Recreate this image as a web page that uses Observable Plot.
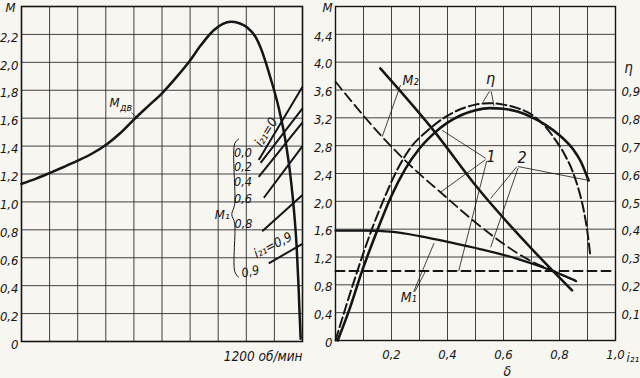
<!DOCTYPE html>
<html><head><meta charset="utf-8">
<script src="https://cdn.jsdelivr.net/npm/d3@7"></script>
<script src="https://cdn.jsdelivr.net/npm/@observablehq/plot@0.6"></script>
<style>
html,body{margin:0;padding:0;background:#f7f6f1;}
#wrap{display:flex;width:640px;height:378px;overflow:hidden;}
#wrap svg{overflow:visible;flex:none;}
</style></head><body><div id="wrap"></div>
<script>
// ---------- Left panel: motor torque vs speed ----------
const rpmGrid = [0,120,240,360,480,600,720,840,960,1080,1200];
const mGridLeft = [0,0.2,0.4,0.6,0.8,1.0,1.2,1.4,1.6,1.8,2.0,2.2,2.4];
const mTicksLeft = [0,0.2,0.4,0.6,0.8,1.0,1.2,1.4,1.6,1.8,2.0,2.2];

const dvSpeed  = [0,60,124,180,240,300,366,420,480,540,601,660,714,765,821,860,893,930,964,1000,1020,1063,1099,1127,1149,1163,1175,1183,1188,1192];
const dvTorque = [1.13,1.165,1.21,1.25,1.295,1.345,1.415,1.49,1.59,1.685,1.78,1.89,2.0,2.12,2.23,2.275,2.29,2.28,2.25,2.18,2.11,1.89,1.67,1.44,1.18,0.95,0.68,0.40,0.18,0.02];

// load torque M1 lines for i21 values (start speed, start M, end speed, end M)
const loadRatio  = ["0,0","0,2","0,4","0,6","0,8","0,9"];
const loadN0 = [1013,1021,1013,1035,1028,1056];
const loadM0 = [1.30,1.28,1.18,1.03,0.79,0.56];
const loadN1 = [1200,1200,1200,1200,1200,1200];
const loadM1 = [1.825,1.67,1.57,1.40,1.05,0.70];

// label positions (rpm, M)
const loadLabelN = [946,946,946,946,948,978];
const loadLabelM = [1.35,1.25,1.14,1.02,0.84,0.50];
const braceN = [927,911,910,898,910,911,927];
const braceM = [1.45,1.42,0.98,0.91,0.85,0.50,0.46];

// ---------- Right panel: M and efficiency vs slip ----------
const slipGrid = [0,0.1,0.2,0.3,0.4,0.5,0.6,0.7,0.8,0.9,1.0];
const mGridRight = [0,0.4,0.8,1.2,1.6,2.0,2.4,2.8,3.2,3.6,4.0,4.4,4.8];
const mTicksRight = [0,0.4,0.8,1.2,1.6,2.0,2.4,2.8,3.2,3.6,4.0,4.4];
const etaTicks = [0.1,0.2,0.3,0.4,0.5,0.6,0.7,0.8,0.9];
const slipTicks = [0.2,0.4,0.6,0.8,1.0];

const m2SolidS = [0.16,0.35,0.51,0.70,0.845];
const m2SolidM = [3.91,3.02,2.18,1.32,0.72];
const m2DashS  = [0,0.166,0.266,0.375,0.53,0.672,0.80,0.86];
const m2DashM  = [3.72,2.93,2.52,2.13,1.60,1.20,0.96,0.85];
const m1SolidS = [0,0.1,0.206,0.3,0.41,0.52,0.644,0.762,0.857];
const m1SolidM = [1.58,1.58,1.56,1.50,1.41,1.31,1.18,1.02,0.86];
const m1DashS  = [0,1.0];
const m1DashM  = [1.0,1.0];
// efficiency (read on the right-hand η scale)
const etaSolidS = [0.008,0.05,0.095,0.149,0.2,0.25,0.3,0.35,0.4,0.45,0.5,0.55,0.6,0.65,0.7,0.75,0.8,0.85,0.875,0.904];
const etaSolidV = [0,0.1125,0.25,0.395,0.52,0.6175,0.69,0.7425,0.7825,0.81,0.8275,0.835,0.8325,0.8225,0.8025,0.775,0.7375,0.685,0.645,0.575];
const etaDashS  = [0,0.07,0.13,0.18,0.22,0.27,0.33,0.38,0.45,0.5,0.55,0.6,0.65,0.703,0.75,0.786,0.82,0.845,0.869,0.885,0.9,0.91];
const etaDashV  = [0,0.225,0.4,0.525,0.6125,0.695,0.755,0.795,0.8325,0.8475,0.8525,0.8475,0.835,0.81,0.7675,0.72,0.665,0.6125,0.54,0.475,0.3875,0.305];

// leader lines (slip, M) -> (slip, M)
const leadX1 = [0.232,0.55,0.556,0.536,0.536,0.54,0.652,0.648,0.652,0.279,0.283];
const leadY1 = [3.67,3.58,3.58,2.62,2.60,2.58,2.50,2.50,2.48,0.70,0.70];
const leadX2 = [0.167,0.527,0.566,0.381,0.375,0.44,0.905,0.554,0.554,0.352,0.322];
const leadY2 = [2.93,3.43,3.37,3.02,2.13,1.0,2.30,2.04,1.34,1.40,1.0];

const FONT = '"Liberation Sans Narrow","DejaVu Sans Condensed","DejaVu Sans",sans-serif';
const INK = "#151515";
const GRID = "#2e2e2e";
const fmt = d => d === 0 ? "0" : d.toFixed(1).replace(".", ",");
const zip = (xs, ys, kx, ky) => xs.map((x, i) => ({[kx]: x, [ky]: ys[i]}));

const baseStyle = {background: "transparent", fontFamily: FONT, fontStyle: "italic", fontSize: "13px", color: INK, overflow: "visible"};

const dv = zip(dvSpeed, dvTorque, "n", "m");
const loads = loadRatio.map((r, i) => ({r, n0: loadN0[i], m0: loadM0[i], n1: loadN1[i], m1: loadM1[i], ln: loadLabelN[i], lm: loadLabelM[i]}));
const brace = zip(braceN, braceM, "n", "m");

const left = Plot.plot({
  width: 306, height: 378,
  marginLeft: 21, marginRight: 4, marginTop: 6, marginBottom: 37,
  x: {domain: [0, 1200], axis: null},
  y: {domain: [0, 2.4]},
  style: baseStyle,
  marks: [
    Plot.gridX(rpmGrid, {stroke: GRID, strokeOpacity: 0.9, strokeWidth: 1}),
    Plot.gridY(mGridLeft, {stroke: GRID, strokeOpacity: 0.9, strokeWidth: 1}),
    Plot.axisY(mTicksLeft, {tickSize: 0, tickPadding: 3, tickFormat: fmt, label: null, dy: 3}),
    Plot.frame({stroke: INK, strokeWidth: 1.6}),
    Plot.line(dv, {x: "n", y: "m", curve: "monotone-x", stroke: INK, strokeWidth: 2.5}),
    Plot.link(loads, {x1: "n0", y1: "m0", x2: "n1", y2: "m1", stroke: INK, strokeWidth: 2}),
    Plot.text(loads.slice(0, 5), {x: "ln", y: "lm", text: "r", fontSize: 12.5}),
    Plot.text(loads.slice(5), {x: "ln", y: "lm", text: "r", fontSize: 12.5, rotate: -12}),
    Plot.line(brace, {x: "n", y: "m", curve: "catmull-rom", stroke: INK, strokeWidth: 1}),
    Plot.text(["M₁"], {x: 857, y: 0.91, fontSize: 13}),
    Plot.text(["i₂₁=0"], {x: 1045, y: 1.5, rotate: -58, fontSize: 13.5}),
    Plot.text(["i₂₁=0,9"], {x: 1074, y: 0.69, rotate: -27, fontSize: 13}),
    Plot.text(["M"], {x: 397, y: 1.71, fontSize: 13}),
    Plot.text(["дв"], {x: 446, y: 1.675, fontSize: 10.5}),
    Plot.link([0], {x1: 470, y1: 1.64, x2: 495, y2: 1.60, stroke: INK, strokeWidth: 0.8}),
    Plot.text(["M"], {x: 0, y: 2.4, dx: -11, dy: 1, fontSize: 13}),
    Plot.text(["1200 об/мин"], {x: 1200, y: 0, dy: 15, textAnchor: "end", fontSize: 13.5})
  ]
});

const m2s = zip(m2SolidS, m2SolidM, "s", "m");
const m2d = zip(m2DashS, m2DashM, "s", "m");
const m1s = zip(m1SolidS, m1SolidM, "s", "m");
const m1d = zip(m1DashS, m1DashM, "s", "m");
const es = zip(etaSolidS, etaSolidV, "s", "eta");
const ed = zip(etaDashS, etaDashV, "s", "eta");
const leaders = leadX1.map((x, i) => ({x1: x, y1: leadY1[i], x2: leadX2[i], y2: leadY2[i]}));

const right = Plot.plot({
  width: 334, height: 378,
  marginLeft: 29, marginRight: 25, marginTop: 6, marginBottom: 38,
  x: {domain: [0, 1]},
  y: {domain: [0, 4.8]},
  style: baseStyle,
  marks: [
    Plot.gridX(slipGrid, {stroke: GRID, strokeOpacity: 0.9, strokeWidth: 1}),
    Plot.gridY(mGridRight, {stroke: GRID, strokeOpacity: 0.9, strokeWidth: 1}),
    Plot.axisY(mTicksRight, {tickSize: 0, tickPadding: 3, tickFormat: fmt, label: null, dy: 2}),
    Plot.axisY(etaTicks.map(e => e * 4), {anchor: "right", tickSize: 0, tickPadding: 6, tickFormat: d => fmt(d / 4), label: null, dy: 2}),
    Plot.axisX(slipTicks, {tickSize: 0, tickPadding: 9, tickFormat: fmt, label: null}),
    Plot.frame({stroke: INK, strokeWidth: 1.4}),
    Plot.line(m1d, {x: "s", y: "m", stroke: INK, strokeWidth: 2, strokeDasharray: "9,5"}),
    Plot.line(m1s, {x: "s", y: "m", curve: "monotone-x", stroke: INK, strokeWidth: 2.2}),
    Plot.line(m2d, {x: "s", y: "m", curve: "monotone-x", stroke: INK, strokeWidth: 1.8, strokeDasharray: "10,5"}),
    Plot.line(m2s, {x: "s", y: "m", curve: "monotone-x", stroke: INK, strokeWidth: 2.5}),
    Plot.line(ed, {x: "s", y: d => d.eta * 4, curve: "monotone-x", stroke: INK, strokeWidth: 2, strokeDasharray: "10,4"}),
    Plot.line(es, {x: "s", y: d => d.eta * 4, curve: "monotone-x", stroke: INK, strokeWidth: 2.6}),
    Plot.link(leaders, {x1: "x1", y1: "y1", x2: "x2", y2: "y2", stroke: INK, strokeWidth: 0.8}),
    Plot.text(["M₂"], {x: 0.268, y: 3.74, fontSize: 14}),
    Plot.text(["η"], {x: 0.554, y: 3.76, fontSize: 16}),
    Plot.text(["1"], {x: 0.556, y: 2.64, fontSize: 16}),
    Plot.text(["2"], {x: 0.666, y: 2.62, fontSize: 16}),
    Plot.text(["M₁"], {x: 0.261, y: 0.62, fontSize: 14}),
    Plot.text(["M"], {x: 0, y: 4.8, dx: -8, dy: 1, fontSize: 13}),
    Plot.text(["η"], {x: 1, y: 3.92, dx: 13, fontSize: 15}),
    Plot.text(["i₂₁"], {x: 1, y: 0, dx: 11, dy: 17, textAnchor: "start", fontSize: 13}),
    Plot.text(["δ"], {x: 0.614, y: 0, dy: 31, fontSize: 14})
  ]
});

document.getElementById("wrap").append(left, right);
</script>
</body></html>
